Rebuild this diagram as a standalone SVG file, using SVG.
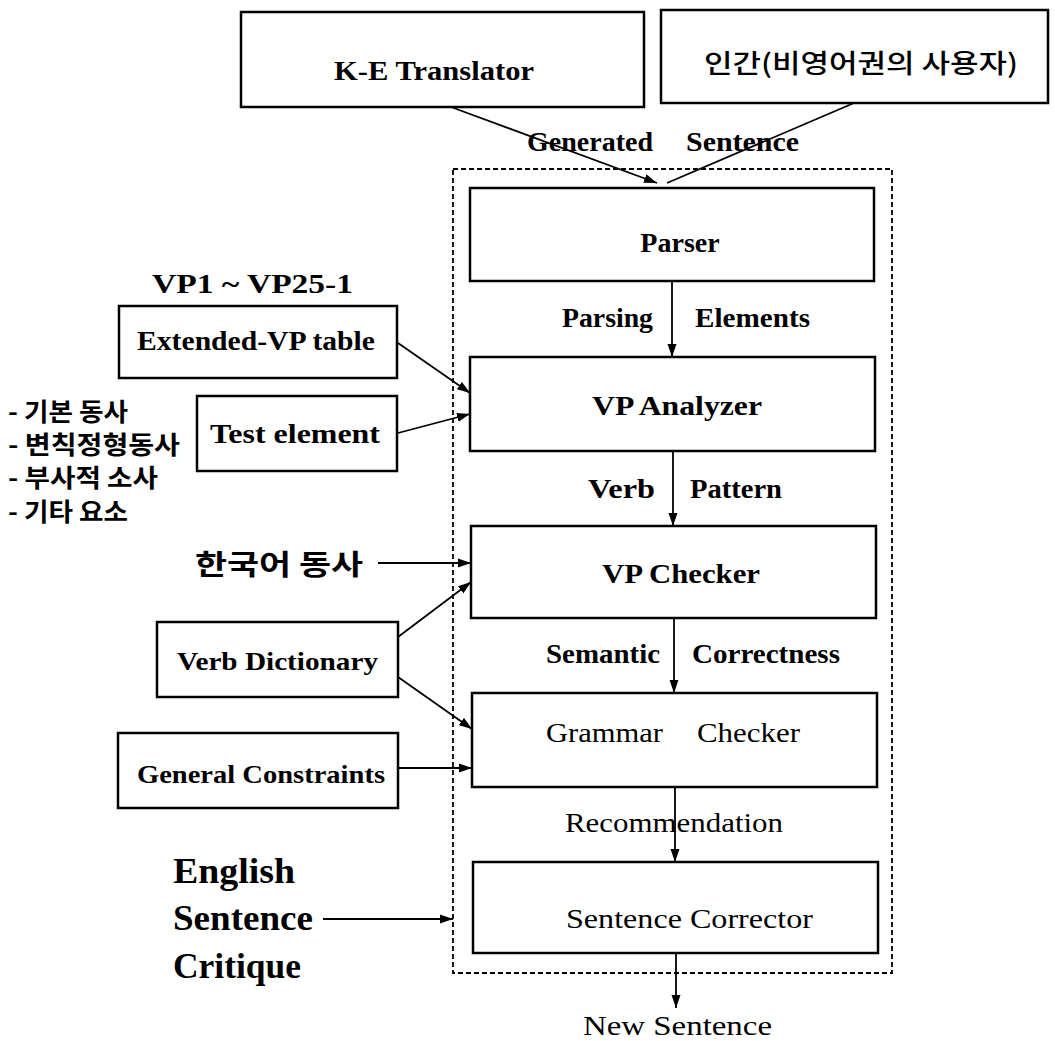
<svg xmlns="http://www.w3.org/2000/svg" width="1055" height="1041" viewBox="0 0 1055 1041">
<style>
.box{fill:#fff;stroke:#000;stroke-width:2.5}
.dash{fill:none;stroke:#000;stroke-width:1.8;stroke-dasharray:5 3}
.t{font-family:"Liberation Serif","Times New Roman",serif;fill:#000}
.b{font-weight:bold}
.k{font-family:"Noto Sans CJK KR","Noto Sans CJK SC",sans-serif;font-weight:bold;fill:#000}
.kn{font-family:"Noto Sans CJK KR","Noto Sans CJK SC",sans-serif;font-weight:500;fill:#000}
.c{fill:none;stroke:#000;stroke-width:1.8}
</style>
<defs>
<marker id="ah" markerUnits="userSpaceOnUse" markerWidth="14" markerHeight="10" refX="13" refY="5" orient="auto">
<path d="M0,0.5 L13,5 L0,9.5 z" fill="#000"/>
</marker>
</defs>
<rect class="dash" x="453" y="169" width="439" height="804"/>
<g id="connectors">
<line class="c" x1="451" y1="107" x2="657" y2="183" marker-end="url(#ah)"/>
<line class="c" x1="854" y1="103" x2="667" y2="183"/>
<line class="c" x1="672" y1="281" x2="672" y2="357" marker-end="url(#ah)"/>
<line class="c" x1="673" y1="451" x2="673" y2="526" marker-end="url(#ah)"/>
<line class="c" x1="674" y1="618" x2="674" y2="693" marker-end="url(#ah)"/>
<line class="c" x1="675" y1="787" x2="675" y2="862" marker-end="url(#ah)"/>
<line class="c" x1="676" y1="953" x2="676" y2="1008" marker-end="url(#ah)"/>
<line class="c" x1="398" y1="343" x2="470" y2="393" marker-end="url(#ah)"/>
<line class="c" x1="398" y1="433" x2="470" y2="414" marker-end="url(#ah)"/>
<line class="c" x1="378" y1="563" x2="471" y2="563" marker-end="url(#ah)"/>
<line class="c" x1="398" y1="637" x2="471" y2="582" marker-end="url(#ah)"/>
<line class="c" x1="398" y1="677" x2="472" y2="729" marker-end="url(#ah)"/>
<line class="c" x1="398" y1="768" x2="472" y2="768" marker-end="url(#ah)"/>
<line class="c" x1="323" y1="919" x2="453" y2="919" stroke-width="3" marker-end="url(#ah)"/>
</g>
<g id="ke-translator">
<rect class="box" x="241" y="12" width="403" height="95"/>
<text class="t b" x="334" y="80" font-size="28" textLength="200" lengthAdjust="spacingAndGlyphs">K-E  Translator</text>
</g>
<g id="human">
<rect class="box" x="661" y="10" width="387" height="93"/>
<text class="kn" x="704" y="73" font-size="26" textLength="314" lengthAdjust="spacingAndGlyphs">인간(비영어권의 사용자)</text>
</g>
<g id="parser">
<rect class="box" x="470" y="188" width="404" height="93"/>
<text class="t b" x="680" y="252" font-size="28" text-anchor="middle">Parser</text>
</g>
<g id="vp-analyzer">
<rect class="box" x="470" y="357" width="405" height="94"/>
<text class="t b" x="592" y="415" font-size="28" textLength="170" lengthAdjust="spacingAndGlyphs">VP  Analyzer</text>
</g>
<g id="vp-checker">
<rect class="box" x="471" y="526" width="405" height="92"/>
<text class="t b" x="602" y="583" font-size="28" textLength="158" lengthAdjust="spacingAndGlyphs">VP  Checker</text>
</g>
<g id="grammar-checker">
<rect class="box" x="472" y="693" width="405" height="94"/>
<text class="t" x="546" y="742" font-size="28" textLength="117" lengthAdjust="spacingAndGlyphs">Grammar</text>
<text class="t" x="697" y="742" font-size="28" textLength="103" lengthAdjust="spacingAndGlyphs">Checker</text>
</g>
<g id="sentence-corrector">
<rect class="box" x="473" y="862" width="405" height="91"/>
<text class="t" x="566" y="928" font-size="28" textLength="247" lengthAdjust="spacingAndGlyphs">Sentence  Corrector</text>
</g>
<g id="extended-vp">
<rect class="box" x="119" y="306" width="278" height="72"/>
<text class="t b" x="137" y="350" font-size="28" textLength="238" lengthAdjust="spacingAndGlyphs">Extended-VP table</text>
</g>
<g id="test-element">
<rect class="box" x="197" y="396" width="200" height="75"/>
<text class="t b" x="210" y="443" font-size="28" textLength="170" lengthAdjust="spacingAndGlyphs">Test  element</text>
</g>
<g id="verb-dictionary">
<rect class="box" x="157" y="622" width="241" height="75"/>
<text class="t b" x="177" y="670" font-size="26" textLength="201" lengthAdjust="spacingAndGlyphs">Verb Dictionary</text>
</g>
<g id="general-constraints">
<rect class="box" x="118" y="733" width="280" height="75"/>
<text class="t b" x="137" y="783" font-size="26" textLength="248" lengthAdjust="spacingAndGlyphs">General Constraints</text>
</g>
<g id="labels">
<text class="t b" x="527" y="151" font-size="27" textLength="126" lengthAdjust="spacingAndGlyphs">Generated</text>
<text class="t b" x="686" y="151" font-size="27" textLength="113" lengthAdjust="spacingAndGlyphs">Sentence</text>
<text class="t b" x="562" y="327" font-size="28" textLength="91" lengthAdjust="spacingAndGlyphs">Parsing</text>
<text class="t b" x="695" y="327" font-size="28" textLength="115" lengthAdjust="spacingAndGlyphs">Elements</text>
<text class="t b" x="588" y="498" font-size="28" textLength="67" lengthAdjust="spacingAndGlyphs">Verb</text>
<text class="t b" x="690" y="498" font-size="28" textLength="92" lengthAdjust="spacingAndGlyphs">Pattern</text>
<text class="t b" x="546" y="663" font-size="28" textLength="114" lengthAdjust="spacingAndGlyphs">Semantic</text>
<text class="t b" x="692" y="663" font-size="28" textLength="148" lengthAdjust="spacingAndGlyphs">Correctness</text>
<text class="t" x="565" y="832" font-size="28" textLength="218" lengthAdjust="spacingAndGlyphs">Recommendation</text>
<text class="t" x="583" y="1035" font-size="27" textLength="189" lengthAdjust="spacingAndGlyphs">New  Sentence</text>
<text class="t b" x="152" y="293" font-size="28" textLength="201" lengthAdjust="spacingAndGlyphs">VP1 ~ VP25-1</text>
<text class="k" x="8" y="421" font-size="25" textLength="120" lengthAdjust="spacingAndGlyphs">- 기본 동사</text>
<text class="k" x="8" y="454" font-size="25" textLength="172" lengthAdjust="spacingAndGlyphs">- 변칙정형동사</text>
<text class="k" x="8" y="487" font-size="25" textLength="150" lengthAdjust="spacingAndGlyphs">- 부사적 소사</text>
<text class="k" x="8" y="521" font-size="25" textLength="120" lengthAdjust="spacingAndGlyphs">- 기타 요소</text>
<text class="k" x="195" y="575" font-size="28" textLength="168" lengthAdjust="spacingAndGlyphs">한국어  동사</text>
<text class="t b" x="173" y="883" font-size="36" textLength="122" lengthAdjust="spacingAndGlyphs">English</text>
<text class="t b" x="173" y="930" font-size="36" textLength="140" lengthAdjust="spacingAndGlyphs">Sentence</text>
<text class="t b" x="173" y="978" font-size="36" textLength="128" lengthAdjust="spacingAndGlyphs">Critique</text>
</g>
</svg>
